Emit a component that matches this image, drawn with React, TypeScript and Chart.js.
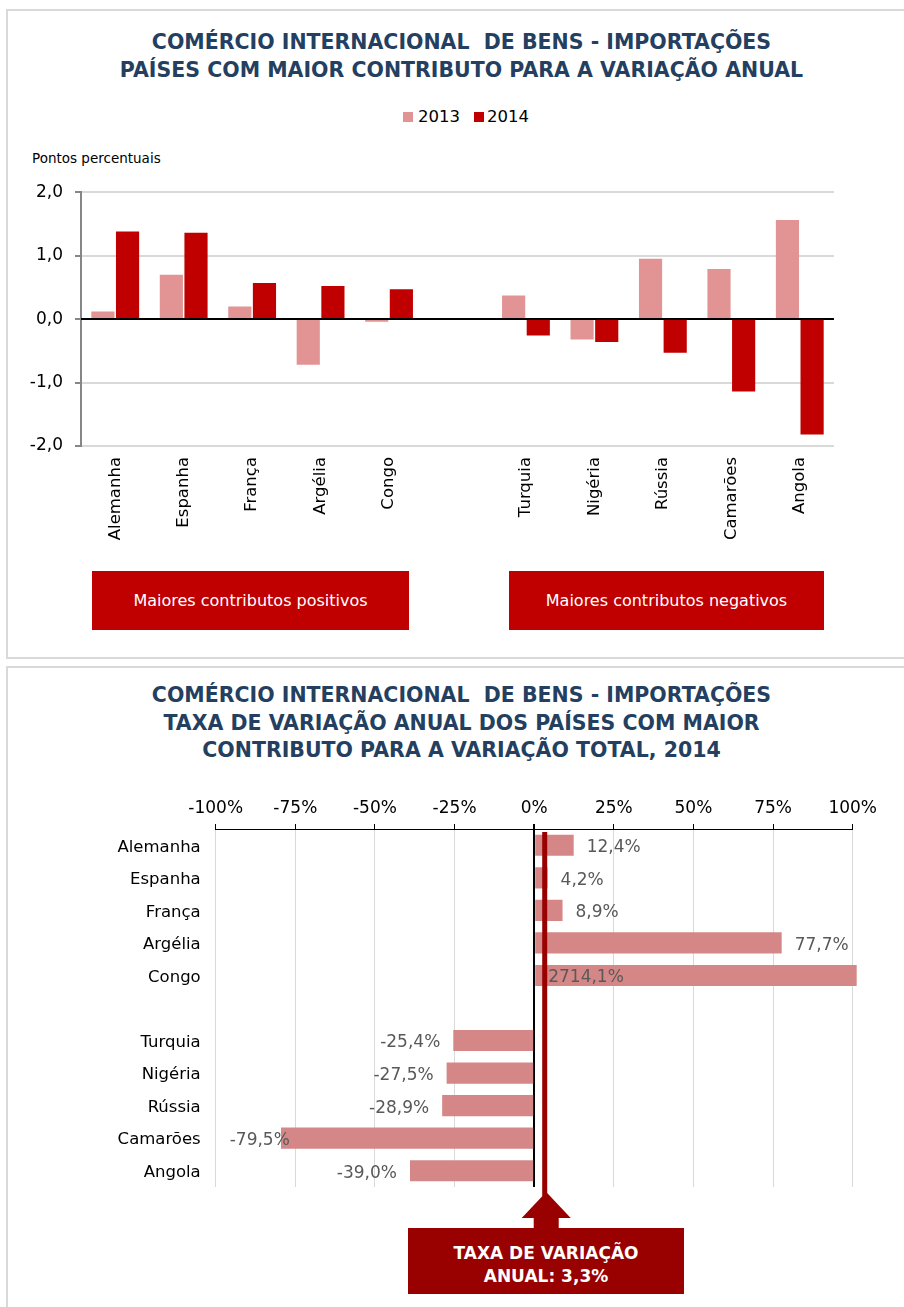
import React, { useEffect, useRef } from 'react';
import { Chart, registerables } from 'chart.js';

Chart.register(...registerables);

// ---------- Data ----------
const CATEGORIES = ['Alemanha', 'Espanha', 'França', 'Argélia', 'Congo', '', 'Turquia', 'Nigéria', 'Rússia', 'Camarões', 'Angola'];
const SERIES_2013 = [0.12, 0.70, 0.20, -0.72, -0.04, null, 0.37, -0.32, 0.95, 0.79, 1.56];
const SERIES_2014 = [1.38, 1.36, 0.57, 0.52, 0.47, null, -0.26, -0.36, -0.53, -1.14, -1.82];
const Y_MIN = -2;
const Y_MAX = 2;
const Y_STEP = 1;

const RATE_2014 = [12.4, 4.2, 8.9, 77.7, 2714.1, null, -25.4, -27.5, -28.9, -79.5, -39.0];
const X_MIN = -100;
const X_MAX = 100;
const X_STEP = 25;
const TOTAL_RATE = 3.3;

const TITLE_TOP = 'COMÉRCIO INTERNACIONAL  DE BENS - IMPORTAÇÕES\nPAÍSES COM MAIOR CONTRIBUTO PARA A VARIAÇÃO ANUAL';
const TITLE_BOTTOM = 'COMÉRCIO INTERNACIONAL  DE BENS - IMPORTAÇÕES\nTAXA DE VARIAÇÃO ANUAL DOS PAÍSES COM MAIOR\nCONTRIBUTO PARA A VARIAÇÃO TOTAL, 2014';

// ---------- Styles ----------
const FONT = "'DejaVu Sans', Verdana, sans-serif";
const C2013 = '#E29494';
const C2014 = '#C00000';
const CRATE = '#D58787';
const DARK = '#990000';
const NAVY = '#243F60';

const fmt = (v: number) => v.toFixed(1).replace('.', ',');

const zeroLinePlugin = {
  id: 'zeroLine',
  afterDatasetsDraw(chart: any) {
    const { ctx, chartArea } = chart;
    const y = Math.round(chart.scales.y.getPixelForValue(0));
    ctx.save();
    ctx.strokeStyle = '#000';
    ctx.lineWidth = 2;
    ctx.beginPath();
    ctx.moveTo(chartArea.left, y);
    ctx.lineTo(chartArea.right, y);
    ctx.stroke();
    ctx.restore();
  },
};

const rateLabelsPlugin = {
  id: 'rateLabels',
  afterDatasetsDraw(chart: any) {
    const { ctx, chartArea } = chart;
    const xs = chart.scales.x;
    const meta = chart.getDatasetMeta(0);
    ctx.save();
    ctx.font = `17px ${FONT}`;
    ctx.fillStyle = '#595959';
    ctx.textBaseline = 'middle';
    const base = xs.getPixelForValue(0);
    RATE_2014.forEach((v, i) => {
      if (v == null) return;
      const bar = meta.data[i];
      const y = bar.y + 2.5;
      const text = fmt(v) + '%';
      const w = ctx.measureText(text).width;
      if (v >= 0) {
        let x: number;
        if (v > xs.max) x = base + 14;
        else x = xs.getPixelForValue(v) + 13;
        ctx.textAlign = 'left';
        ctx.fillText(text, x, y);
      } else {
        const right = xs.getPixelForValue(v) - 13;
        if (right - w < chartArea.left) {
          ctx.textAlign = 'left';
          ctx.fillText(text, chartArea.left + 14, y);
        } else {
          ctx.textAlign = 'right';
          ctx.fillText(text, right, y);
        }
      }
    });
    ctx.restore();
  },
};

const markerPlugin = {
  id: 'marker',
  afterDatasetsDraw(chart: any) {
    const { ctx, chartArea } = chart;
    const x = chart.scales.x.getPixelForValue(TOTAL_RATE);
    ctx.save();
    ctx.fillStyle = DARK;
    const top = chartArea.top + 3;
    const tip = chartArea.bottom + 5;
    ctx.fillRect(x - 2.5, top, 5, tip + 4 - top);
    ctx.beginPath();
    ctx.moveTo(x + 1.5, tip);
    ctx.lineTo(x + 1.5 + 24.5, tip + 26);
    ctx.lineTo(x + 1.5 - 24.5, tip + 26);
    ctx.closePath();
    ctx.fill();
    ctx.fillRect(x + 1.5 - 12.5, tip + 25, 25, 13);
    ctx.restore();
  },
};

function TopChart() {
  const ref = useRef<HTMLCanvasElement | null>(null);
  useEffect(() => {
    if (!ref.current) return;
    const chart = new Chart(ref.current, {
      type: 'bar',
      data: {
        labels: CATEGORIES,
        datasets: [
          { label: '2013', data: SERIES_2013 as any, backgroundColor: C2013, categoryPercentage: 0.72, barPercentage: 0.94 },
          { label: '2014', data: SERIES_2014 as any, backgroundColor: C2014, categoryPercentage: 0.72, barPercentage: 0.94 },
        ],
      },
      options: {
        animation: false,
        responsive: false,
        maintainAspectRatio: false,
        layout: { padding: { left: 0, right: 70, top: 20.7, bottom: 0 } },
        plugins: { legend: { display: false }, tooltip: { enabled: false } },
        scales: {
          x: {
            grid: { display: false, drawTicks: false },
            border: { display: false },
            ticks: {
              autoSkip: false,
              minRotation: 90,
              maxRotation: 90,
              padding: 11,
              color: '#000',
              font: { family: FONT, size: 16.5 },
            },
            afterFit: (s: any) => { s.height = 124; },
          },
          y: {
            min: Y_MIN,
            max: Y_MAX,
            ticks: {
              stepSize: Y_STEP,
              padding: 12,
              color: '#000',
              font: { family: FONT, size: 17 },
              callback: (v: any) => fmt(Number(v)),
            },
            grid: {
              color: (c: any) => (c.tick && c.tick.value === 0 ? '#000' : '#D9D9D9'),
              lineWidth: 2,
              tickColor: '#868686',
              tickLength: 6,
              drawTicks: true,
            },
            border: { color: '#868686', width: 2 },
            afterFit: (s: any) => { s.width = 81; },
          },
        },
      } as any,
      plugins: [zeroLinePlugin],
    });
    return () => chart.destroy();
  }, []);
  return (
    <canvas
      ref={ref}
      width={904}
      height={400}
      style={{ position: 'absolute', left: 0, top: 170, width: 904, height: 400, display: 'block' }}
    />
  );
}

function BottomChart() {
  const ref = useRef<HTMLCanvasElement | null>(null);
  useEffect(() => {
    if (!ref.current) return;
    const chart = new Chart(ref.current, {
      type: 'bar',
      data: {
        labels: CATEGORIES,
        datasets: [
          {
            label: 'Taxa de variação 2014',
            data: RATE_2014 as any,
            backgroundColor: CRATE,
            barPercentage: 0.65,
            categoryPercentage: 1,
            clip: { left: 0, top: 0, right: 4, bottom: 0 },
          },
        ],
      },
      options: {
        indexAxis: 'y',
        animation: false,
        responsive: false,
        maintainAspectRatio: false,
        layout: { padding: { left: 0, right: 51.3, top: 0, bottom: 113 } },
        plugins: { legend: { display: false }, tooltip: { enabled: false } },
        scales: {
          x: {
            position: 'top',
            min: X_MIN,
            max: X_MAX,
            ticks: {
              stepSize: X_STEP,
              padding: 5,
              color: '#000',
              font: { family: FONT, size: 17 },
              callback: (v: any) => `${v}%`,
            },
            grid: {
              color: (c: any) => (c.tick && c.tick.value === 0 ? '#000' : '#D9D9D9'),
              lineWidth: (c: any) => (c.tick && c.tick.value === 0 ? 2 : 1),
              tickColor: '#000',
              tickLength: 5,
            },
            border: { color: '#000', width: 1 },
            afterFit: (s: any) => { s.height = 49; },
          },
          y: {
            grid: { display: false, drawTicks: false },
            border: { display: false },
            ticks: { autoSkip: false, padding: 15, labelOffset: 2, color: '#000', font: { family: FONT, size: 16.5 } },
            afterFit: (s: any) => { s.width = 215.7; },
          },
        },
      } as any,
      plugins: [markerPlugin, rateLabelsPlugin],
    });
    return () => chart.destroy();
  }, []);
  return (
    <canvas
      ref={ref}
      width={904}
      height={520}
      style={{ position: 'absolute', left: 0, top: 780, width: 904, height: 520, display: 'block' }}
    />
  );
}

const abs = (s: React.CSSProperties): React.CSSProperties => ({ position: 'absolute', ...s });

export default function App() {
  const titleStyle: React.CSSProperties = {
    fontFamily: FONT,
    fontWeight: 'bold',
    fontSize: 20.5,
    lineHeight: '28px',
    color: NAVY,
    whiteSpace: 'pre',
    textAlign: 'center',
    width: 923,
    left: 0,
  };
  return (
    <div style={{ position: 'absolute', left: 0, top: 0, width: 904, height: 1307, overflow: 'hidden', background: '#fff' }}>
      {/* Panel 1 */}
      <div style={abs({ left: 6, top: 9, width: 930, height: 650, border: '2px solid #D9D9D9', boxSizing: 'border-box' })} />
      <div style={abs({ ...titleStyle, top: 28 })}>{TITLE_TOP}</div>
      {/* legend */}
      <div style={abs({ left: 403, top: 112, width: 10, height: 10, background: C2013 })} />
      <div style={abs({ left: 418, top: 107, fontFamily: FONT, fontSize: 16.5, lineHeight: '20px', color: '#000' })}>2013</div>
      <div style={abs({ left: 474, top: 112, width: 10, height: 10, background: C2014 })} />
      <div style={abs({ left: 487, top: 107, fontFamily: FONT, fontSize: 16.5, lineHeight: '20px', color: '#000' })}>2014</div>
      <div style={abs({ left: 32, top: 150, fontFamily: FONT, fontSize: 13.5, lineHeight: '16px', color: '#000' })}>Pontos percentuais</div>
      <TopChart />
      <div
        style={abs({
          left: 92, top: 571, width: 317, height: 59, background: C2014, color: '#fff',
          fontFamily: FONT, fontSize: 16, display: 'flex', alignItems: 'center', justifyContent: 'center',
        })}
      >
        Maiores contributos positivos
      </div>
      <div
        style={abs({
          left: 509, top: 571, width: 315, height: 59, background: C2014, color: '#fff',
          fontFamily: FONT, fontSize: 16, display: 'flex', alignItems: 'center', justifyContent: 'center',
        })}
      >
        Maiores contributos negativos
      </div>

      {/* Panel 2 */}
      <div style={abs({ left: 6, top: 666, width: 930, height: 700, border: '2px solid #D9D9D9', boxSizing: 'border-box' })} />
      <div style={abs({ ...titleStyle, top: 682, lineHeight: '27.5px' })}>{TITLE_BOTTOM}</div>
      <BottomChart />
      <div
        style={abs({
          left: 408, top: 1228, width: 276, height: 66, background: DARK, color: '#fff',
          fontFamily: FONT, fontWeight: 'bold', fontSize: 17, lineHeight: '23px', textAlign: 'center',
          boxSizing: 'border-box', paddingTop: 14,
        })}
      >
        TAXA DE VARIAÇÃO
        <br />
        ANUAL: 3,3%
      </div>
    </div>
  );
}
